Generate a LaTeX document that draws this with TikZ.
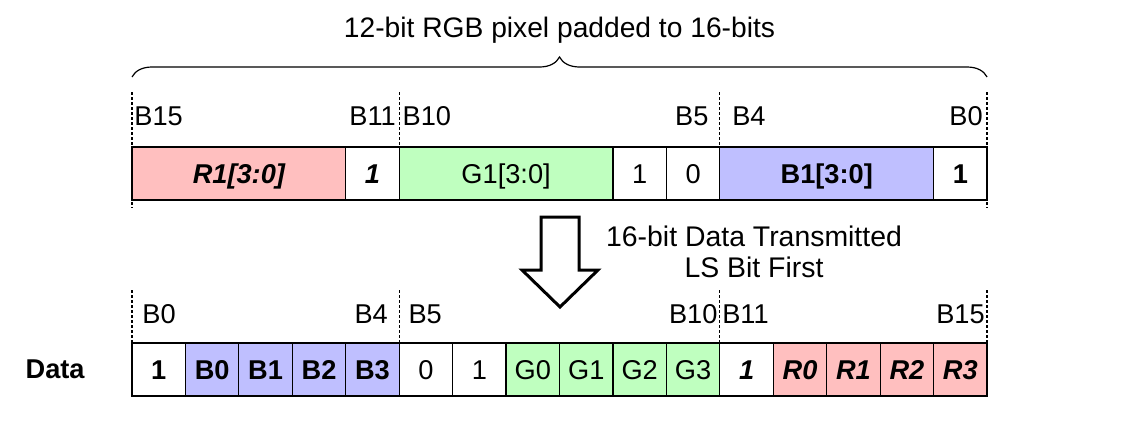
\documentclass[tikz,border=0pt]{standalone}
\usepackage{fontspec}
\setmainfont{Liberation Sans}
\usetikzlibrary{positioning,decorations.pathreplacing}

\definecolor{redbit}{RGB}{255,191,191}
\definecolor{greenbit}{RGB}{191,255,191}
\definecolor{bluebit}{RGB}{191,191,255}

\tikzset{
  bit/.style={draw,line width=0.6pt,minimum width=26.72pt,minimum height=26.5pt,inner sep=0pt,outer sep=0pt,
    text height=0.72em,text depth=0pt},
  field/.style={bit,minimum width=106.88pt,text depth=0.2em,text height=0.92em},
  frame/.style={draw,line width=1.4pt},
  guide/.style={line width=0.6pt,dash pattern=on 1.5pt off 1pt},
  lbl/.style={inner sep=0pt},
  bi/.style={font=\bfseries\itshape},
  bf/.style={font=\bfseries}
}

\begin{document}
\fontsize{13.6}{15.5}\selectfont
\begin{tikzpicture}[x=0.5pt,y=-0.5pt]
\useasboundingbox (0,0) rectangle (1128,434);
% pixel as stored
\node [field,bi,fill=redbit,anchor=west] (red) at (132,173.5) {R1[3:0]};
\node [bit,bi,right=0pt of red] (pad1) {1};
\node [field,fill=greenbit,right=0pt of pad1] (green) {G1[3:0]};
\node [bit,right=0pt of green] (pad2) {1};
\node [bit,right=0pt of pad2] (pad3) {0};
\node [field,bf,fill=bluebit,right=0pt of pad3] (blue) {B1[3:0]};
\node [bit,bf,right=0pt of blue] (pad4) {1};
\draw [frame] (red.north west) rectangle (pad4.south east);

\draw [guide] ([yshift=27.5pt]red.north west) -- ([yshift=-4pt]red.south west);
\draw [guide] ([yshift=27.5pt]green.north west) -- (green.north west);
\draw [guide] ([yshift=27.5pt]blue.north west) -- (blue.north west);
\draw [guide] ([yshift=27.5pt]pad4.north east) -- ([yshift=-4pt]pad4.south east);

\node [lbl,anchor=base west] (t15) at ([xshift=1pt,yshift=11pt]red.north west) {B15};
\node [lbl,anchor=base east] (t11) at ([xshift=-1.5pt,yshift=11pt]pad1.north east) {B11};
\node [lbl,anchor=base west] (t10) at ([xshift=1.5pt,yshift=11pt]green.north west) {B10};
\node [lbl,anchor=base east] (t5) at ([xshift=-5.5pt,yshift=11pt]pad3.north east) {B5};
\node [lbl,anchor=base west] (t4) at ([xshift=6pt,yshift=11pt]blue.north west) {B4};
\node [lbl,anchor=base east] (t0) at ([xshift=-2pt,yshift=11pt]pad4.north east) {B0};

\draw [decorate,decoration={brace,amplitude=10pt},line width=0.6pt]
  ([yshift=35pt]red.north west) -- ([yshift=35pt]pad4.north east);
\node [lbl] (title) at (559.5,30) {\fontsize{14.1}{16}\selectfont 12-bit RGB pixel padded to 16-bits};

% transmit order
\draw [line width=1.5pt,line join=miter] (541,217) -- (579,217) -- (579,270) -- (598,270)
  -- (560,307) -- (522,270) -- (541,270) -- cycle;
\node [lbl,align=center,font=\fontsize{14.2}{15.5}\selectfont] (order) at (754,252) {16-bit Data Transmitted\\LS Bit First};

% bits on the wire
\node [bit,bf,anchor=west] (lsb) at (132,369.5) {1};
\node [bit,bf,fill=bluebit,right=0pt of lsb] (b0) {B0};
\node [bit,bf,fill=bluebit,right=0pt of b0] (b1) {B1};
\node [bit,bf,fill=bluebit,right=0pt of b1] (b2) {B2};
\node [bit,bf,fill=bluebit,right=0pt of b2] (b3) {B3};
\node [bit,right=0pt of b3] (z0) {0};
\node [bit,right=0pt of z0] (z1) {1};
\node [bit,fill=greenbit,right=0pt of z1] (g0) {G0};
\node [bit,fill=greenbit,right=0pt of g0] (g1) {G1};
\node [bit,fill=greenbit,right=0pt of g1] (g2) {G2};
\node [bit,fill=greenbit,right=0pt of g2] (g3) {G3};
\node [bit,bi,right=0pt of g3] (msb) {1};
\node [bit,bi,fill=redbit,right=0pt of msb] (r0) {R0};
\node [bit,bi,fill=redbit,right=0pt of r0] (r1) {R1};
\node [bit,bi,fill=redbit,right=0pt of r1] (r2) {R2};
\node [bit,bi,fill=redbit,right=0pt of r2] (r3) {R3};
\draw [frame] (lsb.north west) rectangle (r3.south east);

\draw [guide] ([yshift=26.5pt]lsb.north west) -- (lsb.north west);
\draw [guide] ([yshift=26.5pt]z0.north west) -- (z0.north west);
\draw [guide] ([yshift=26.5pt]msb.north west) -- (msb.north west);
\draw [guide] ([yshift=26.5pt]r3.north east) -- (r3.north east);

\node [lbl,anchor=base west] (w0) at ([xshift=5pt,yshift=10pt]lsb.north west) {B0};
\node [lbl,anchor=base east] (w4) at ([xshift=-5.5pt,yshift=10pt]b3.north east) {B4};
\node [lbl,anchor=base west] (w5) at ([xshift=4.5pt,yshift=10pt]z0.north west) {B5};
\node [lbl,anchor=base east] (w10) at ([xshift=-1pt,yshift=10pt]g3.north east) {B10};
\node [lbl,anchor=base west] (w11) at ([xshift=1pt,yshift=10pt]msb.north west) {B11};
\node [lbl,anchor=base east] (w15) at ([xshift=-1pt,yshift=10pt]r3.north east) {B15};

\node [lbl,bf,left=23.5pt of lsb] (data) {Data};
\end{tikzpicture}
\end{document}
